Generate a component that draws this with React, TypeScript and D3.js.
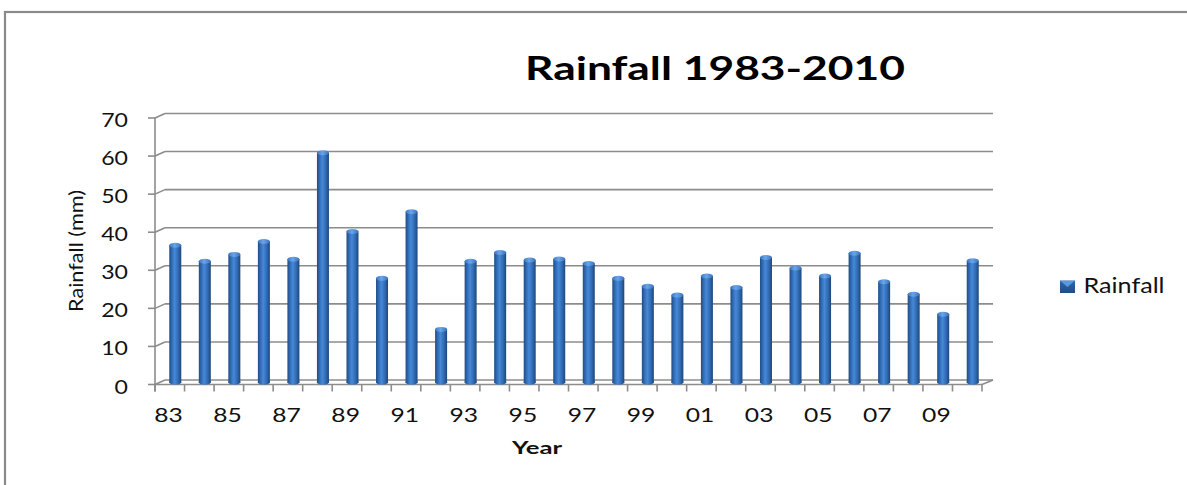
import React from "react";
import * as d3 from "d3";

const years = ["1983","1984","1985","1986","1987","1988","1989","1990","1991","1992","1993","1994","1995","1996","1997","1998","1999","2000","2001","2002","2003","2004","2005","2006","2007","2008","2009","2010"];
const rainfall = [36, 31.8, 33.6, 37, 32.3, 60.3, 39.6, 27.3, 44.8, 13.9, 31.8, 34.1, 32.1, 32.4, 31.2, 27.3, 25.2, 22.9, 27.9, 24.9, 32.8, 30.0, 27.9, 33.9, 26.4, 23.1, 17.9, 31.9];
const yTicks = [0, 10, 20, 30, 40, 50, 60, 70];
const title = "Rainfall 1983-2010";
const xTitle = "Year";
const yTitle = "Rainfall (mm)";
const seriesName = "Rainfall";

const FONT = "Lato, 'Open Sans', sans-serif";
const GRID = "#8c8c8c";

export default function App() {
  const W = 1187, H = 485;
  const dx = 10, dyBack = -4.5;
  const yFront = d3.scaleLinear().domain([0, 70]).range([384.5, 118]);
  const yBack = d3.scaleLinear().domain([0, 70]).range([380, 113.5]);
  const yMid = d3.scaleLinear().domain([0, 70]).range([382.3, 115.8]);
  const x = d3.scaleBand<string>().domain(years).range([155, 982]).padding(0);
  const bw = x.bandwidth();
  const barW = 12;
  const gridRight = 993;

  return (
    <svg width={W} height={H} style={{ position: "absolute", left: 0, top: 0, background: "#fff" }}>
      <defs>
        <linearGradient id="cyl" x1="0" x2="1" y1="0" y2="0">
          <stop offset="0" stopColor="#1f4c86" />
          <stop offset="0.3" stopColor="#3877c4" />
          <stop offset="0.45" stopColor="#4688d8" />
          <stop offset="0.75" stopColor="#3069b0" />
          <stop offset="1" stopColor="#1d4679" />
        </linearGradient>
        <linearGradient id="cap" x1="0" x2="1" y1="0" y2="0">
          <stop offset="0" stopColor="#3a78c2" />
          <stop offset="0.45" stopColor="#6aa4ea" />
          <stop offset="1" stopColor="#3a72b8" />
        </linearGradient>
        <linearGradient id="leg" x1="0" x2="0" y1="0" y2="1">
          <stop offset="0" stopColor="#2f66aa" />
          <stop offset="1" stopColor="#1f4c88" />
        </linearGradient>
      </defs>
      <rect x={5} y={12} width={1300} height={600} fill="#fff" stroke="#8a8a8a" strokeWidth={2.2} />

      {/* title */}
      <text x={525} y={80} fontFamily={FONT} fontWeight="bold" fontSize={32} textLength={380} lengthAdjust="spacingAndGlyphs" fill="#000">{title}</text>

      {/* gridlines */}
      {yTicks.map((v) => (
        <g key={v} stroke={GRID} strokeWidth={1.6} fill="none">
          <line x1={155 + dx} x2={gridRight} y1={yBack(v)} y2={yBack(v)} />
          <line x1={155} x2={155 + dx} y1={yFront(v)} y2={yBack(v)} />
          <line x1={148} x2={155} y1={yFront(v)} y2={yFront(v)} />
        </g>
      ))}
      {/* y axis */}
      <line x1={155} x2={155} y1={yFront(70)} y2={yFront(0) + 7} stroke={GRID} strokeWidth={1.6} />
      {/* floor front */}
      <line x1={155} x2={982} y1={yFront(0)} y2={yFront(0)} stroke={GRID} strokeWidth={1.6} />
      <line x1={982} x2={gridRight} y1={yFront(0)} y2={yBack(0)} stroke={GRID} strokeWidth={1.6} />
      {/* x ticks */}
      {years.concat(["end"]).map((yr, i) => {
        const xx = i < years.length ? (x(yr) as number) : 982;
        return <line key={yr} x1={xx} x2={xx} y1={yFront(0)} y2={yFront(0) + 7} stroke={GRID} strokeWidth={1.6} />;
      })}

      {/* bars */}
      {years.map((yr, i) => {
        const cx = (x(yr) as number) + bw / 2 + 5.5;
        const top = yMid(rainfall[i]);
        const bot = yMid(0);
        return (
          <g key={yr}>
            <ellipse cx={cx} cy={bot} rx={barW / 2} ry={2.5} fill="url(#cyl)" />
            <rect x={cx - barW / 2} y={top} width={barW} height={bot - top} fill="url(#cyl)" />
            <ellipse cx={cx} cy={top} rx={barW / 2} ry={2.5} fill="url(#cap)" />
          </g>
        );
      })}

      {/* y tick labels */}
      {yTicks.map((v) => (
        <text key={v} x={128} y={yFront(v) + 9} textAnchor="end" fontFamily={FONT} fontSize={18.5}
          textLength={13.4 * String(v).length} lengthAdjust="spacingAndGlyphs" fill="#111">{v}</text>
      ))}
      {/* x tick labels */}
      {years.map((yr, i) => i % 2 === 0 ? (
        <text key={yr} x={(x(yr) as number) + bw / 2 - 1.3} y={422} textAnchor="middle" fontFamily={FONT} fontSize={19}
          textLength={28.6} lengthAdjust="spacingAndGlyphs" fill="#111">{yr.slice(2)}</text>
      ) : null)}

      {/* axis titles */}
      <text x={537} y={454} textAnchor="middle" fontFamily={FONT} fontWeight="bold" fontSize={16.5}
        textLength={50} lengthAdjust="spacingAndGlyphs" fill="#111">{xTitle}</text>
      <text transform="translate(83,251) rotate(-90)" textAnchor="middle" fontFamily={FONT} fontSize={18.5}
        textLength={122} lengthAdjust="spacingAndGlyphs" fill="#111">{yTitle}</text>

      {/* legend */}
      <rect x={1060} y={280.5} width={15} height={12.5} fill="url(#leg)" />
      <path d="M1060.5,281 L1074.5,281 L1067.5,287 Z" fill="#5b97dc" />
      <text x={1083.5} y={293.3} fontFamily={FONT} fontSize={20.5} textLength={81} lengthAdjust="spacingAndGlyphs" fill="#111">{seriesName}</text>
    </svg>
  );
}
